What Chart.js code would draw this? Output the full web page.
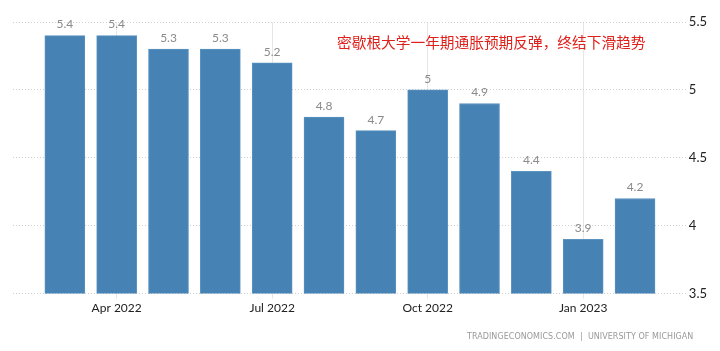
<!DOCTYPE html>
<html>
<head>
<meta charset="utf-8">
<script src="https://cdn.jsdelivr.net/npm/chart.js@4"></script>
<style>
  html, body { margin: 0; padding: 0; background: #fff; }
  #wrap { position: relative; width: 720px; height: 351px; }
  #note {
    position: absolute; left: 337px; top: 31px;
    font-family: "Noto Sans CJK SC", sans-serif; font-size: 14.7px;
    color: #e0201b; white-space: nowrap;
  }
  #source {
    position: absolute; left: 467px; top: 332px;
    font-family: "DejaVu Sans", sans-serif; font-size: 8px;
    color: #999; letter-spacing: 0.05px; white-space: nowrap;
  }
</style>
</head>
<body>
<div id="wrap">
  <canvas id="chart" width="720" height="351"></canvas>
  <div id="note">密歇根大学一年期通胀预期反弹，终结下滑趋势</div>
  <div id="source">TRADINGECONOMICS.COM &nbsp;| &nbsp;UNIVERSITY OF MICHIGAN</div>
</div>
<script>
// Mar 2022 - Feb 2023
const months = ['Mar 2022', 'Apr 2022', 'May 2022', 'Jun 2022', 'Jul 2022', 'Aug 2022',
                'Sep 2022', 'Oct 2022', 'Nov 2022', 'Dec 2022', 'Jan 2023', 'Feb 2023'];
const values = [5.4, 5.4, 5.3, 5.3, 5.2, 4.8, 4.7, 5.0, 4.9, 4.4, 3.9, 4.2];
const xTickIdx = [1, 4, 7, 10];
const yTicks = [3.5, 4, 4.5, 5, 5.5];

// etiquetas encima de cada barra
const valueLabels = {
  id: 'valueLabels',
  afterDatasetsDraw(chart) {
    const ctx = chart.ctx;
    const meta = chart.getDatasetMeta(0);
    ctx.save();
    ctx.font = '12px Lato';
    ctx.fillStyle = '#8a8a8a';
    ctx.textAlign = 'center';
    ctx.textBaseline = 'bottom';
    meta.data.forEach((bar, i) => {
      ctx.fillText(String(values[i]), bar.x, bar.y - 5);
    });
    ctx.restore();
  }
};

new Chart(document.getElementById('chart'), {
  type: 'bar',
  data: {
    datasets: [{
      data: values.map((v, i) => ({ x: i, y: v })),
      backgroundColor: '#4682b4',
      borderColor: '#5a92c0',
      borderWidth: 1,
      barThickness: 40
    }]
  },
  options: {
    responsive: false,
    animation: false,
    layout: { padding: { left: 13, right: 11, top: 22, bottom: 34 } },
    plugins: { legend: { display: false }, tooltip: { enabled: false } },
    scales: {
      x: {
        type: 'linear',
        min: -1,
        max: 12,
        offset: false,
        afterBuildTicks: s => { s.ticks = xTickIdx.map(v => ({ value: v })); },
        ticks: {
          callback: v => months[v] || '',
          color: '#222',
          font: { family: 'Lato', size: 12 },
          maxRotation: 0,
          padding: 2
        },
        grid: { color: '#e6e6e6', tickLength: 5, offset: false },
        border: { display: false }
      },
      y: {
        position: 'right',
        min: 3.5,
        max: 5.5,
        afterBuildTicks: s => { s.ticks = yTicks.map(v => ({ value: v })); },
        ticks: {
          callback: v => String(v),
          color: '#222',
          font: { family: 'Lato', size: 13 },
          padding: 2
        },
        grid: { color: '#d0d0d0', drawTicks: false },
        border: { display: false, dash: [1, 2] }
      }
    }
  },
  plugins: [valueLabels]
});
</script>
</body>
</html>
